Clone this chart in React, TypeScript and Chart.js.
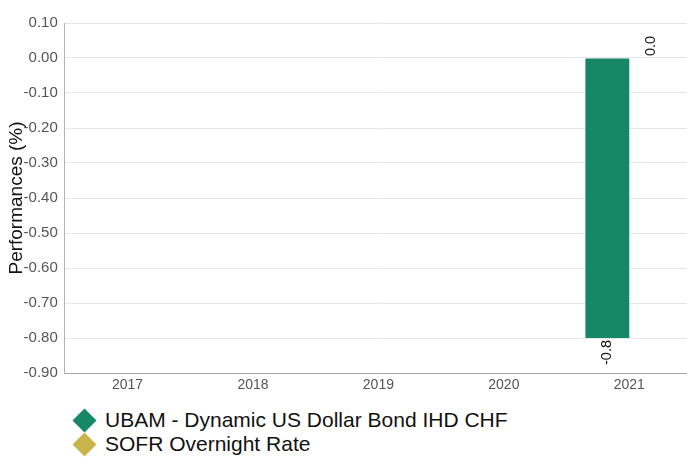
import React, { useEffect, useRef } from "react";
import { Chart, registerables } from "chart.js";

Chart.register(...registerables);

const categories = ["2017", "2018", "2019", "2020", "2021"];
const fundValues: (number | null)[] = [null, null, null, null, -0.8];
const sofrValues: (number | null)[] = [null, null, null, null, 0.0];
const seriesNames = ["UBAM - Dynamic US Dollar Bond IHD CHF", "SOFR Overnight Rate"];
const seriesColors = ["#178766", "#c8b44b"];
const yMin = -0.9;
const yMax = 0.1;
const yStep = 0.1;

const FONT = "'Liberation Sans', Arial, Helvetica, sans-serif";

const valueLabels = {
  id: "valueLabels",
  afterDatasetsDraw(chart: any) {
    const ctx = chart.ctx;
    ctx.save();
    ctx.font = `14.5px ${FONT}`;
    ctx.fillStyle = "#111";
    chart.data.datasets.forEach((ds: any, di: number) => {
      const meta = chart.getDatasetMeta(di);
      meta.data.forEach((el: any, i: number) => {
        const v = ds.data[i];
        if (v === null || v === undefined) return;
        const text = Number(v).toFixed(1);
        ctx.save();
        ctx.translate(el.x, el.y);
        ctx.rotate(-Math.PI / 2);
        ctx.textBaseline = "middle";
        if (v >= 0) {
          ctx.textAlign = "left";
          ctx.fillText(text, 2, 0);
        } else {
          ctx.textAlign = "right";
          ctx.fillText(text, -2, 0);
        }
        ctx.restore();
      });
    });
    ctx.restore();
  },
};

export default function App() {
  const ref = useRef<HTMLCanvasElement | null>(null);
  useEffect(() => {
    document.body.style.margin = "0";
    if (!ref.current) return;
    const chart = new Chart(ref.current, {
      type: "bar",
      data: {
        labels: categories,
        datasets: [
          {
            label: seriesNames[0],
            data: fundValues,
            backgroundColor: seriesColors[0],
            categoryPercentage: 0.7,
            barPercentage: 1.0,
          },
          {
            label: seriesNames[1],
            data: sofrValues,
            backgroundColor: seriesColors[1],
            categoryPercentage: 0.7,
            barPercentage: 1.0,
          },
        ],
      },
      options: {
        responsive: false,
        animation: false,
        layout: { padding: { top: 23, left: 0, right: 0, bottom: 0 } },
        plugins: {
          legend: { display: false },
          tooltip: { enabled: false },
        },
        scales: {
          x: {
            grid: { display: false, drawTicks: false },
            border: { display: true, color: "#a6a6a6", width: 1 },
            ticks: {
              color: "#555",
              font: { family: FONT, size: 14 },
              padding: 4,
              maxRotation: 0,
            },
            afterFit(scale: any) {
              scale.height = 27;
            },
          },
          y: {
            min: yMin,
            max: yMax,
            grid: { color: "#e8e8e8", drawTicks: false },
            border: { display: true, color: "#b3b3b3", width: 1 },
            ticks: {
              stepSize: yStep,
              color: "#555",
              font: { family: FONT, size: 15 },
              padding: 7,
              callback: (v: any) => {
                const n = Number(v);
                return (Math.abs(n) < 1e-9 ? 0 : n).toFixed(2);
              },
            },
            title: {
              display: true,
              text: "Performances (%)",
              color: "#111",
              font: { family: FONT, size: 19 },
              padding: { top: 5, bottom: 0 },
            },
            afterFit(scale: any) {
              scale.width = 64.8;
            },
          },
        },
      },
      plugins: [valueLabels],
    });
    return () => chart.destroy();
  }, []);

  const rowStyle: React.CSSProperties = {
    display: "flex",
    alignItems: "center",
    height: 24,
  };

  return (
    <div style={{ position: "relative", width: 687, height: 457, overflow: "hidden", background: "#fff" }}>
      <canvas ref={ref} width={692} height={400} style={{ display: "block" }} />
      <div style={{ position: "absolute", left: 72.7, top: 408, fontFamily: FONT, fontSize: 21, color: "#111" }}>
        {seriesNames.map((name, i) => (
          <div key={name} style={rowStyle}>
            <div style={{ width: 24, height: 24, position: "relative", flex: "0 0 24px" }}>
              <div
                style={{
                  position: "absolute",
                  left: 3.5,
                  top: 3.5,
                  width: 17,
                  height: 17,
                  background: seriesColors[i],
                  transform: "rotate(45deg)",
                }}
              />
            </div>
            <span style={{ marginLeft: 8.3, lineHeight: "24px", whiteSpace: "nowrap" }}>{name}</span>
          </div>
        ))}
      </div>
    </div>
  );
}
